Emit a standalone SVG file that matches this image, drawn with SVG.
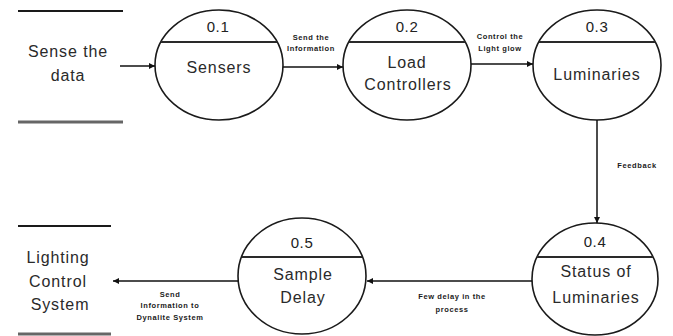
<svg xmlns="http://www.w3.org/2000/svg" width="673" height="336" viewBox="0 0 673 336">
  <style>
    .proc { fill: #ffffff; stroke: #1a1a1a; stroke-width: 1.6; }
    .div { stroke: #2a2a2a; stroke-width: 2.2; }
    .store-top { stroke: #1a1a1a; stroke-width: 1.8; }
    .store-bot { stroke: #666666; stroke-width: 3; }
    .flow { stroke: #111111; stroke-width: 1.5; fill: none; marker-end: url(#arrow); }
    .num { font-family: "Liberation Sans", Arial, sans-serif; font-size: 15px; fill: #222222; text-anchor: middle; letter-spacing: 0.6px; }
    .name { font-family: "Liberation Sans", Arial, sans-serif; font-size: 16px; fill: #2a2a2a; text-anchor: middle; letter-spacing: 0.9px; }
    .lbl { font-family: "Liberation Sans", Arial, sans-serif; font-size: 7.5px; font-weight: bold; fill: #1a1a1a; text-anchor: middle; letter-spacing: 0.6px; }
  </style>
  <defs>
    <marker id="arrow" viewBox="0 0 10 10" refX="10" refY="5" markerWidth="6" markerHeight="6" markerUnits="userSpaceOnUse" orient="auto">
      <path d="M0,0 L10,5 L0,10 z" fill="#111111"/>
    </marker>
  </defs>
  <rect width="673" height="336" fill="#ffffff"/>

  <!-- external entity: Sense the data -->
  <g id="sense-data">
    <line class="store-top" x1="18" y1="11" x2="123" y2="11"/>
    <line class="store-bot" x1="18" y1="122" x2="123" y2="122"/>
    <text class="name" x="68" y="57">Sense the</text>
    <text class="name" x="68" y="81">data</text>
  </g>

  <!-- external entity: Lighting Control System -->
  <g id="lighting-control">
    <line class="store-top" x1="18" y1="226" x2="111" y2="226"/>
    <line class="store-bot" x1="18" y1="334" x2="111" y2="334"/>
    <text class="name" x="58" y="263">Lighting</text>
    <text class="name" x="58" y="287">Control</text>
    <text class="name" x="60" y="310">System</text>
  </g>

  <!-- process 0.1 -->
  <g id="p01">
    <ellipse class="proc" cx="219" cy="65" rx="64" ry="55"/>
    <line class="div" x1="161" y1="42" x2="277" y2="42"/>
    <text class="num" x="218" y="32">0.1</text>
    <text class="name" x="219" y="73">Sensers</text>
  </g>

  <!-- process 0.2 -->
  <g id="p02">
    <ellipse class="proc" cx="407" cy="65" rx="64" ry="55"/>
    <line class="div" x1="349" y1="42" x2="465" y2="42"/>
    <text class="num" x="407" y="32">0.2</text>
    <text class="name" x="407" y="68">Load</text>
    <text class="name" x="408" y="90">Controllers</text>
  </g>

  <!-- process 0.3 -->
  <g id="p03">
    <ellipse class="proc" cx="597" cy="65" rx="64" ry="55"/>
    <line class="div" x1="539" y1="42" x2="655" y2="42"/>
    <text class="num" x="597" y="32">0.3</text>
    <text class="name" x="597" y="80">Luminaries</text>
  </g>

  <!-- process 0.4 -->
  <g id="p04">
    <ellipse class="proc" cx="595" cy="279" rx="63" ry="56"/>
    <line class="div" x1="537" y1="257" x2="653" y2="257"/>
    <text class="num" x="595" y="247">0.4</text>
    <text class="name" x="596" y="277">Status of</text>
    <text class="name" x="596" y="303">Luminaries</text>
  </g>

  <!-- process 0.5 -->
  <g id="p05">
    <ellipse class="proc" cx="302" cy="276" rx="64" ry="58"/>
    <line class="div" x1="242" y1="257" x2="362" y2="257"/>
    <text class="num" x="302" y="248">0.5</text>
    <text class="name" x="303" y="280">Sample</text>
    <text class="name" x="303" y="303">Delay</text>
  </g>

  <!-- data flows -->
  <g id="connectors">
    <line class="flow" x1="120" y1="66" x2="155" y2="66"/>
    <line class="flow" x1="283" y1="67" x2="343" y2="67"/>
    <line class="flow" x1="471" y1="64" x2="533" y2="64"/>
    <line class="flow" x1="597" y1="120" x2="597" y2="223"/>
    <line class="flow" x1="532" y1="281" x2="367" y2="281"/>
    <line class="flow" x1="238" y1="281" x2="113" y2="281"/>

    <text class="lbl" x="311" y="40">Send the</text>
    <text class="lbl" x="311" y="51">Information</text>
    <text class="lbl" x="500" y="39">Control the</text>
    <text class="lbl" x="500" y="51">Light glow</text>
    <text class="lbl" x="637" y="168">Feedback</text>
    <text class="lbl" x="452" y="299">Few delay in the</text>
    <text class="lbl" x="452" y="312">process</text>
    <text class="lbl" x="170" y="297">Send</text>
    <text class="lbl" x="170" y="308">Information to</text>
    <text class="lbl" x="170" y="320">Dynalite System</text>
  </g>
</svg>
